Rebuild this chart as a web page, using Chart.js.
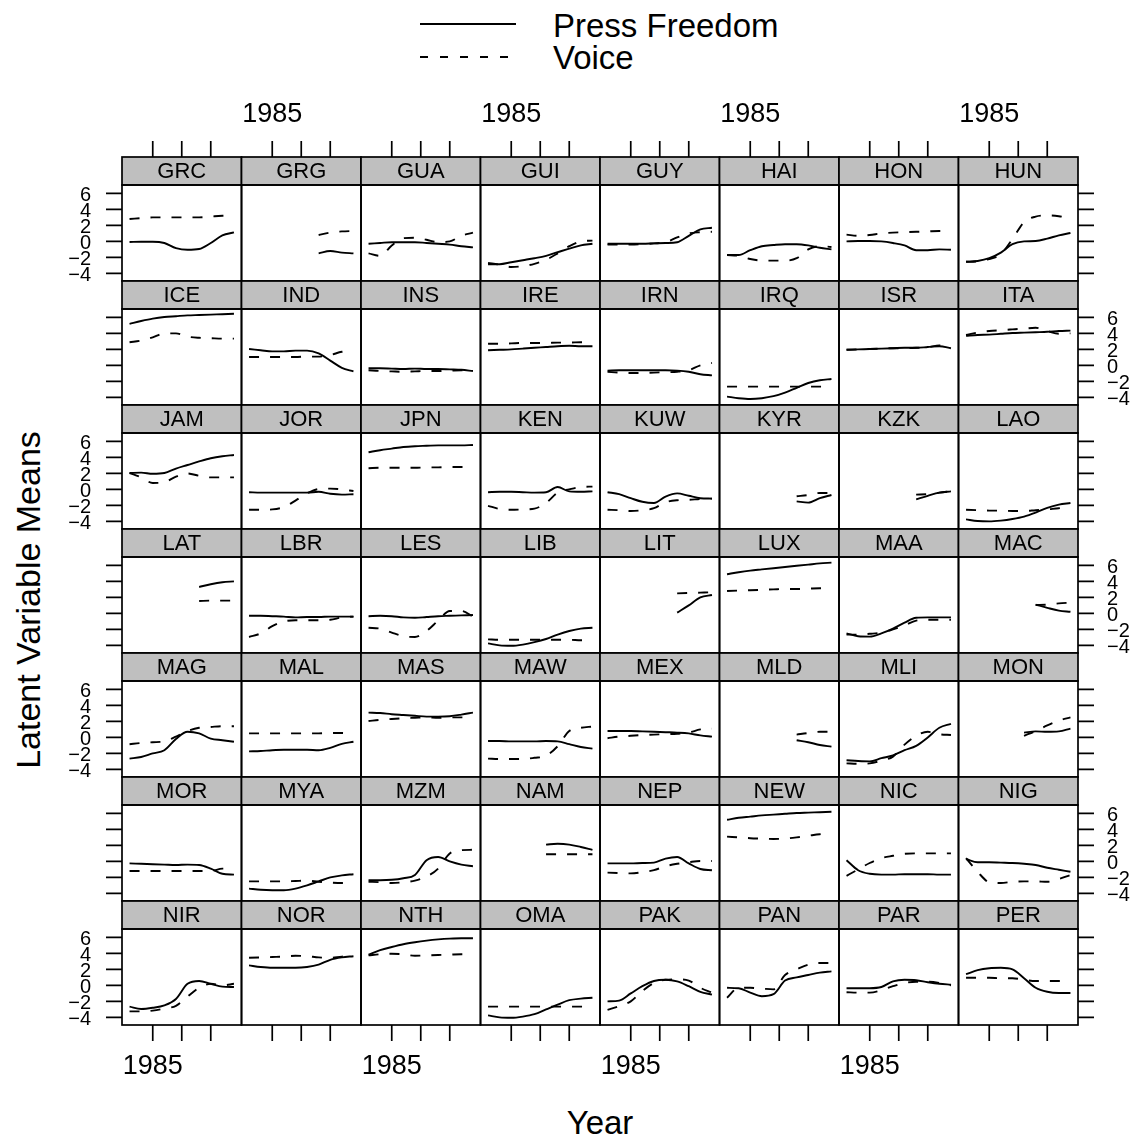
<!DOCTYPE html>
<html>
<head>
<meta charset="utf-8">
<script src="https://cdn.jsdelivr.net/npm/chart.js@4.4.1/dist/chart.umd.min.js"></script>
<style>
body { margin: 0; background: #fff; width: 1142px; height: 1142px; position: relative; overflow: hidden; font-family: "Liberation Sans", Arial, sans-serif; }
canvas { position: absolute; }
.txt { position: absolute; color: #000; font-size: 33px; line-height: 1; white-space: nowrap; }
</style>
</head>
<body>
<canvas id="legendKey" width="110" height="80" style="left:413px;top:0px;width:110px;height:80px"></canvas>
<div class="txt" style="left:553px;top:25px;transform:translateY(-50%)">Press Freedom</div>
<div class="txt" style="left:553px;top:57px;transform:translateY(-50%)">Voice</div>
<div class="txt" style="left:600px;top:1122px;transform:translate(-50%,-50%)">Year</div>
<div class="txt" style="left:28px;top:600px;font-size:34px;transform:translate(-50%,-50%) rotate(-90deg)">Latent Variable Means</div>
<script>
const years = [1981, 1983, 1985, 1987, 1989, 1991, 1993, 1995, 1997, 1999];
const countries = ["GRC","GRG","GUA","GUI","GUY","HAI","HON","HUN",
                   "ICE","IND","INS","IRE","IRN","IRQ","ISR","ITA",
                   "JAM","JOR","JPN","KEN","KUW","KYR","KZK","LAO",
                   "LAT","LBR","LES","LIB","LIT","LUX","MAA","MAC",
                   "MAG","MAL","MAS","MAW","MEX","MLD","MLI","MON",
                   "MOR","MYA","MZM","NAM","NEP","NEW","NIC","NIG",
                   "NIR","NOR","NTH","OMA","PAK","PAN","PAR","PER"];
const xTicks = [1985, 1990, 1995];
const xTickLabels = ["1985", "", ""];
const yTicks = [-4, -2, 0, 2, 4, 6];
const yTickLabels = ["\u22124", "\u22122", "0", "2", "4", "6"];

// row 1
const pressGRC = [-0.08, -0.04, -0.04, -0.2, -0.84, -1.05, -0.95, -0.2, 0.75, 1.13];
const voiceGRC = [2.8, 2.9, 3.0, 3.0, 3.0, 3.0, 3.0, 3.1, 3.2, 3.2];
const pressGRG = [null, null, null, null, null, null, -1.5, -1.2, -1.4, -1.5];
const voiceGRG = [null, null, null, null, null, null, 0.8, 1.1, 1.25, 1.3];
const pressGUA = [-0.3, -0.2, -0.1, -0.1, -0.1, -0.2, -0.3, -0.4, -0.6, -0.75];
const voiceGUA = [-1.5, -1.8, -0.5, 0.4, 0.45, 0.2, -0.1, 0.0, 0.7, 1.1];
const pressGUI = [-2.85, -2.85, -2.6, -2.35, -2.1, -1.8, -1.35, -0.9, -0.5, -0.3];
const voiceGUI = [-2.7, -2.9, -3.2, -3.1, -2.8, -2.3, -1.5, -0.6, 0.0, 0.1];
const pressGUY = [-0.3, -0.3, -0.3, -0.3, -0.25, -0.2, -0.1, 0.7, 1.5, 1.7];
const voiceGUY = [-0.4, -0.4, -0.4, -0.35, -0.25, -0.1, 0.5, 1.0, 1.15, 1.2];
const pressHAI = [-1.7, -1.7, -1.1, -0.6, -0.45, -0.35, -0.35, -0.5, -0.8, -1.0];
const voiceHAI = [-1.7, -1.8, -2.2, -2.4, -2.4, -2.4, -2.1, -1.0, -0.6, -0.7];
const pressHON = [0.0, 0.05, 0.05, 0.0, -0.2, -0.5, -1.1, -1.1, -1.0, -1.05];
const voiceHON = [0.85, 0.7, 0.8, 1.0, 1.1, 1.15, 1.2, 1.25, 1.3, 1.3];
const pressHUN = [-2.55, -2.45, -2.1, -1.4, -0.35, 0.0, 0.05, 0.35, 0.75, 1.05];
const voiceHUN = [-2.55, -2.5, -2.2, -1.6, 0.3, 2.4, 3.1, 3.25, 3.15, 2.9];
// row 2
const pressICE = [5.2, 5.55, 5.85, 6.05, 6.15, 6.25, 6.3, 6.35, 6.4, 6.45];
const voiceICE = [2.9, 3.1, 3.5, 4.0, 4.0, 3.6, 3.45, 3.4, 3.35, 3.35];
const pressIND = [2.05, 1.9, 1.75, 1.75, 1.85, 1.85, 1.5, 0.6, -0.3, -0.75];
const voiceIND = [1.05, 1.05, 1.05, 1.05, 1.05, 1.1, 1.1, 1.3, 1.7, 1.8];
const pressINS = [-0.35, -0.35, -0.4, -0.45, -0.4, -0.45, -0.45, -0.5, -0.55, -0.7];
const voiceINS = [-0.6, -0.7, -0.75, -0.8, -0.75, -0.7, -0.7, -0.65, -0.6, -0.6];
const pressIRE = [1.9, 1.95, 2.0, 2.1, 2.2, 2.3, 2.4, 2.45, 2.4, 2.4];
const voiceIRE = [2.7, 2.7, 2.75, 2.8, 2.8, 2.8, 2.85, 2.85, 2.9, 2.9];
const pressIRN = [-0.65, -0.6, -0.6, -0.6, -0.6, -0.6, -0.65, -0.8, -1.1, -1.25];
const voiceIRN = [-0.8, -0.9, -0.95, -0.95, -0.9, -0.85, -0.8, -0.6, 0.0, 0.3];
const pressIRQ = [-3.9, -4.1, -4.2, -4.1, -3.85, -3.4, -2.8, -2.2, -1.85, -1.7];
const voiceIRQ = [-2.65, -2.65, -2.65, -2.65, -2.65, -2.65, -2.65, -2.65, -2.65, -2.7];
const pressISR = [1.95, 2.0, 2.05, 2.1, 2.15, 2.2, 2.2, 2.3, 2.4, 2.15];
const voiceISR = [1.95, 2.0, 2.05, 2.1, 2.15, 2.15, 2.2, 2.25, 2.5, 2.2];
const pressITA = [3.7, 3.8, 3.85, 3.95, 4.05, 4.1, 4.15, 4.2, 4.3, 4.35];
const voiceITA = [3.8, 4.1, 4.3, 4.4, 4.5, 4.6, 4.7, 4.3, 3.95, 4.0];
// row 3
const pressJAM = [2.05, 2.1, 1.95, 2.05, 2.6, 3.05, 3.5, 3.9, 4.15, 4.3];
const voiceJAM = [2.05, 1.5, 0.8, 0.9, 1.6, 2.0, 1.7, 1.5, 1.5, 1.5];
const pressJOR = [-0.35, -0.4, -0.4, -0.4, -0.4, -0.4, -0.3, -0.55, -0.65, -0.6];
const voiceJOR = [-2.55, -2.55, -2.5, -2.2, -1.4, -0.5, 0.05, 0.1, 0.0, -0.2];
const pressJPN = [4.65, 4.9, 5.1, 5.3, 5.4, 5.45, 5.5, 5.5, 5.5, 5.55];
const voiceJPN = [2.65, 2.7, 2.7, 2.7, 2.7, 2.75, 2.75, 2.8, 2.8, 2.8];
const pressKEN = [-0.35, -0.3, -0.3, -0.35, -0.4, -0.35, 0.3, -0.25, -0.3, -0.25];
const voiceKEN = [-2.05, -2.45, -2.55, -2.5, -2.4, -1.7, -0.4, 0.0, 0.3, 0.35];
const pressKUW = [-0.35, -0.6, -1.1, -1.55, -1.7, -0.9, -0.5, -0.8, -1.1, -1.15];
const voiceKUW = [-2.55, -2.6, -2.7, -2.6, -2.35, -1.6, -1.35, -1.3, -1.2, -1.15];
const pressKYR = [null, null, null, null, null, null, -1.5, -1.65, -1.1, -0.7];
const voiceKYR = [null, null, null, null, null, null, -0.85, -0.7, -0.45, -0.45];
const pressKZK = [null, null, null, null, null, null, -1.25, -0.8, -0.4, -0.25];
const voiceKZK = [null, null, null, null, null, null, -0.65, -0.6, -0.4, -0.25];
const pressLAO = [-3.75, -3.95, -4.0, -3.9, -3.7, -3.4, -2.9, -2.3, -1.9, -1.7];
const voiceLAO = [-2.55, -2.6, -2.65, -2.65, -2.7, -2.7, -2.6, -2.5, -2.35, -2.3];
// row 4
const pressLAT = [null, null, null, null, null, null, 3.3, 3.65, 3.9, 4.0];
const voiceLAT = [null, null, null, null, null, null, 1.55, 1.6, 1.6, 1.6];
const pressLBR = [-0.3, -0.3, -0.35, -0.4, -0.5, -0.45, -0.45, -0.4, -0.4, -0.4];
const voiceLBR = [-2.95, -2.5, -1.6, -1.0, -0.85, -0.85, -0.85, -0.8, -0.5, -0.4];
const pressLES = [-0.35, -0.3, -0.35, -0.5, -0.55, -0.45, -0.35, -0.3, -0.25, -0.2];
const voiceLES = [-1.8, -1.9, -2.4, -2.85, -2.95, -2.2, -0.9, 0.3, 0.3, -0.4];
const pressLIB = [-3.75, -4.0, -4.05, -3.9, -3.6, -3.2, -2.65, -2.2, -1.9, -1.8];
const voiceLIB = [-3.25, -3.3, -3.3, -3.3, -3.3, -3.3, -3.3, -3.3, -3.35, -3.35];
const pressLIT = [null, null, null, null, null, null, 0.1, 1.0, 2.0, 2.3];
const voiceLIT = [null, null, null, null, null, null, 2.5, 2.55, 2.6, 2.65];
const pressLUX = [4.9, 5.15, 5.35, 5.5, 5.65, 5.8, 5.95, 6.1, 6.25, 6.35];
const voiceLUX = [2.8, 2.85, 2.9, 2.95, 3.0, 3.05, 3.05, 3.1, 3.15, 3.15];
const pressMAA = [-2.5, -2.85, -2.9, -2.5, -1.9, -1.15, -0.55, -0.5, -0.5, -0.5];
const voiceMAA = [-2.65, -2.65, -2.55, -2.4, -2.0, -1.5, -0.9, -0.8, -0.8, -0.8];
const pressMAC = [null, null, null, null, null, null, 1.1, 0.7, 0.35, 0.2];
const voiceMAC = [null, null, null, null, null, null, 1.05, 1.1, 1.25, 1.35];
// row 5
const pressMAG = [-2.65, -2.45, -2.0, -1.6, -0.2, 0.7, 0.5, -0.15, -0.35, -0.55];
const voiceMAG = [-0.85, -0.7, -0.6, -0.5, 0.1, 0.8, 1.2, 1.3, 1.4, 1.4];
const pressMAL = [-1.75, -1.7, -1.6, -1.55, -1.55, -1.55, -1.6, -1.3, -0.8, -0.55];
const voiceMAL = [0.5, 0.5, 0.5, 0.5, 0.5, 0.5, 0.5, 0.55, 0.55, 0.55];
const pressMAS = [3.1, 3.05, 2.9, 2.8, 2.7, 2.6, 2.6, 2.65, 2.85, 3.1];
const voiceMAS = [2.05, 2.2, 2.3, 2.4, 2.45, 2.5, 2.45, 2.5, 2.5, 2.4];
const pressMAW = [-0.45, -0.45, -0.5, -0.5, -0.5, -0.45, -0.5, -0.85, -1.2, -1.4];
const voiceMAW = [-2.65, -2.7, -2.7, -2.7, -2.55, -2.3, -1.1, 0.8, 1.2, 1.35];
const pressMEX = [0.8, 0.8, 0.8, 0.75, 0.7, 0.65, 0.6, 0.5, 0.25, 0.1];
const voiceMEX = [-0.1, 0.1, 0.2, 0.3, 0.35, 0.4, 0.45, 0.6, 1.0, 1.1];
const pressMLD = [null, null, null, null, null, null, -0.35, -0.6, -0.95, -1.15];
const voiceMLD = [null, null, null, null, null, null, 0.35, 0.55, 0.7, 0.7];
const pressMLI = [-2.85, -2.95, -3.0, -2.6, -2.25, -1.6, -1.05, 0.0, 1.2, 1.7];
const voiceMLI = [-3.25, -3.3, -3.25, -2.9, -2.4, -0.9, 0.2, 0.7, 0.4, 0.3];
const pressMON = [null, null, null, null, null, 0.6, 0.75, 0.7, 0.75, 1.1];
const voiceMON = [null, null, null, null, null, 0.2, 0.8, 1.5, 2.1, 2.5];
// row 6
const pressMOR = [-0.25, -0.3, -0.35, -0.4, -0.45, -0.4, -0.45, -0.9, -1.55, -1.65];
const voiceMOR = [-1.2, -1.2, -1.2, -1.2, -1.2, -1.2, -1.2, -1.2, -0.9, -0.9];
const pressMYA = [-3.4, -3.55, -3.6, -3.6, -3.4, -3.0, -2.5, -2.0, -1.75, -1.6];
const voiceMYA = [-2.5, -2.5, -2.5, -2.5, -2.45, -2.4, -2.55, -2.65, -2.7, -2.7];
const pressMZM = [-2.35, -2.35, -2.3, -2.1, -1.7, 0.15, 0.55, 0.0, -0.4, -0.6];
const voiceMZM = [-2.55, -2.6, -2.7, -2.6, -2.4, -1.9, -0.9, 1.0, 1.4, 1.45];
const pressNAM = [null, null, null, null, null, 2.1, 2.2, 2.1, 1.8, 1.45];
const voiceNAM = [null, null, null, null, null, 0.9, 0.9, 0.9, 0.9, 0.9];
const pressNEP = [-0.25, -0.25, -0.25, -0.2, -0.15, 0.35, 0.55, -0.25, -0.95, -1.1];
const voiceNEP = [-1.4, -1.45, -1.5, -1.35, -1.1, -0.6, -0.3, -0.1, 0.05, 0.05];
const pressNEW = [5.2, 5.45, 5.6, 5.75, 5.85, 5.95, 6.05, 6.1, 6.15, 6.2];
const voiceNEW = [3.1, 3.0, 2.9, 2.85, 2.8, 2.85, 3.0, 3.2, 3.4, 3.45];
const pressNIC = [0.15, -1.1, -1.55, -1.65, -1.65, -1.6, -1.6, -1.6, -1.65, -1.65];
const voiceNIC = [-1.8, -1.0, -0.2, 0.4, 0.7, 0.95, 1.0, 1.0, 1.0, 1.0];
const pressNIG = [0.3, -0.1, -0.1, -0.15, -0.2, -0.3, -0.45, -0.8, -1.05, -1.3];
const voiceNIG = [0.4, -1.3, -2.6, -2.7, -2.55, -2.5, -2.5, -2.55, -2.2, -1.7];
// row 7
const pressNIR = [-2.65, -2.95, -2.8, -2.5, -1.7, 0.2, 0.55, 0.2, -0.15, -0.2];
const voiceNIR = [-3.25, -3.25, -3.15, -2.9, -2.55, -1.4, -0.3, 0.2, 0.0, 0.2];
const pressNOR = [2.5, 2.3, 2.2, 2.2, 2.2, 2.3, 2.6, 3.2, 3.5, 3.65];
const voiceNOR = [3.45, 3.5, 3.55, 3.6, 3.7, 3.65, 3.5, 3.45, 3.6, 3.65];
const pressNTH = [3.85, 4.4, 4.8, 5.15, 5.4, 5.6, 5.75, 5.85, 5.9, 5.9];
const voiceNTH = [3.75, 3.9, 3.95, 3.9, 3.7, 3.75, 3.8, 3.85, 3.9, 3.9];
const pressOMA = [-3.75, -4.0, -4.05, -3.9, -3.6, -3.0, -2.4, -1.85, -1.65, -1.55];
const voiceOMA = [-2.65, -2.65, -2.65, -2.65, -2.65, -2.65, -2.65, -2.65, -2.65, -2.7];
const pressPAK = [-2.0, -1.9, -1.0, -0.1, 0.55, 0.7, 0.5, -0.1, -0.8, -1.15];
const voicePAK = [-3.05, -2.6, -2.0, -0.7, 0.3, 0.7, 0.75, 0.6, -0.3, -0.9];
const pressPAN = [-0.3, -0.35, -0.9, -1.35, -1.1, 0.6, 1.0, 1.3, 1.6, 1.75];
const voicePAN = [-1.55, -0.3, -0.3, -0.4, -0.5, 1.3, 2.0, 2.6, 2.8, 2.8];
const pressPAR = [-0.35, -0.35, -0.35, -0.2, 0.5, 0.7, 0.65, 0.4, 0.2, 0.1];
const voicePAR = [-0.85, -0.9, -0.9, -0.6, -0.1, 0.3, 0.45, 0.45, 0.3, 0.0];
const pressPER = [1.4, 1.9, 2.15, 2.2, 2.0, 0.9, -0.3, -0.8, -0.95, -0.95];
const voicePER = [0.95, 0.95, 0.95, 0.9, 0.9, 0.7, 0.55, 0.55, 0.55, 0.55];

const pressFreedom = [pressGRC, pressGRG, pressGUA, pressGUI, pressGUY, pressHAI, pressHON, pressHUN,
  pressICE, pressIND, pressINS, pressIRE, pressIRN, pressIRQ, pressISR, pressITA,
  pressJAM, pressJOR, pressJPN, pressKEN, pressKUW, pressKYR, pressKZK, pressLAO,
  pressLAT, pressLBR, pressLES, pressLIB, pressLIT, pressLUX, pressMAA, pressMAC,
  pressMAG, pressMAL, pressMAS, pressMAW, pressMEX, pressMLD, pressMLI, pressMON,
  pressMOR, pressMYA, pressMZM, pressNAM, pressNEP, pressNEW, pressNIC, pressNIG,
  pressNIR, pressNOR, pressNTH, pressOMA, pressPAK, pressPAN, pressPAR, pressPER];
const voice = [voiceGRC, voiceGRG, voiceGUA, voiceGUI, voiceGUY, voiceHAI, voiceHON, voiceHUN,
  voiceICE, voiceIND, voiceINS, voiceIRE, voiceIRN, voiceIRQ, voiceISR, voiceITA,
  voiceJAM, voiceJOR, voiceJPN, voiceKEN, voiceKUW, voiceKYR, voiceKZK, voiceLAO,
  voiceLAT, voiceLBR, voiceLES, voiceLIB, voiceLIT, voiceLUX, voiceMAA, voiceMAC,
  voiceMAG, voiceMAL, voiceMAS, voiceMAW, voiceMEX, voiceMLD, voiceMLI, voiceMON,
  voiceMOR, voiceMYA, voiceMZM, voiceNAM, voiceNEP, voiceNEW, voiceNIC, voiceNIG,
  voiceNIR, voiceNOR, voiceNTH, voiceOMA, voicePAK, voicePAN, voicePAR, voicePER];

const NCOL = 8, NROW = 7;
const STRIP = 28;
const FONT = '"Liberation Sans", Arial, sans-serif';

// strip, box and outer axes for each panel
const panelPlugin = {
  id: 'panel',
  afterDraw(chart, args, opts) {
    const ctx = chart.ctx;
    const a = chart.chartArea;
    const sx = chart.scales.x, sy = chart.scales.y;
    ctx.save();
    ctx.fillStyle = '#bfbfbf';
    ctx.fillRect(a.left, a.top - STRIP, a.right - a.left, STRIP);
    ctx.strokeStyle = '#000';
    ctx.lineWidth = 1.7;
    ctx.strokeRect(a.left, a.top - STRIP, a.right - a.left, STRIP);
    ctx.strokeRect(a.left, a.top, a.right - a.left, a.bottom - a.top);
    ctx.fillStyle = '#000';
    ctx.font = '22px ' + FONT;
    ctx.textAlign = 'center';
    ctx.textBaseline = 'middle';
    ctx.fillText(opts.name, (a.left + a.right) / 2, a.top - STRIP / 2 + 1);

    ctx.beginPath();
    if (opts.row === 0) {
      xTicks.forEach(t => {
        const x = sx.getPixelForValue(t);
        ctx.moveTo(x, a.top - STRIP);
        ctx.lineTo(x, a.top - STRIP - 16);
      });
    }
    if (opts.row === NROW - 1) {
      xTicks.forEach(t => {
        const x = sx.getPixelForValue(t);
        ctx.moveTo(x, a.bottom);
        ctx.lineTo(x, a.bottom + 16);
      });
    }
    if (opts.col === 0) {
      yTicks.forEach(t => {
        const y = sy.getPixelForValue(t);
        ctx.moveTo(a.left, y);
        ctx.lineTo(a.left - 16, y);
      });
    }
    if (opts.col === NCOL - 1) {
      yTicks.forEach(t => {
        const y = sy.getPixelForValue(t);
        ctx.moveTo(a.right, y);
        ctx.lineTo(a.right + 16, y);
      });
    }
    ctx.stroke();

    ctx.font = '27px ' + FONT;
    if (opts.row === 0 && opts.col % 2 === 1) {
      xTicks.forEach((t, i) => ctx.fillText(xTickLabels[i], sx.getPixelForValue(t), a.top - STRIP - 42));
    }
    if (opts.row === NROW - 1 && opts.col % 2 === 0) {
      xTicks.forEach((t, i) => ctx.fillText(xTickLabels[i], sx.getPixelForValue(t), a.bottom + 42));
    }
    ctx.font = '20px ' + FONT;
    if (opts.col === 0 && opts.row % 2 === 0) {
      ctx.textAlign = 'right';
      yTicks.forEach((t, i) => ctx.fillText(yTickLabels[i], a.left - 31, sy.getPixelForValue(t) + 2));
    }
    if (opts.col === NCOL - 1 && opts.row % 2 === 1) {
      ctx.textAlign = 'left';
      yTicks.forEach((t, i) => ctx.fillText(yTickLabels[i], a.right + 29, sy.getPixelForValue(t) + 2));
    }
    ctx.restore();
  }
};

const M = 100;
const PW = 119.5, PH = 96;
countries.forEach((name, k) => {
  const row = Math.floor(k / NCOL), col = k % NCOL;
  const px = 122 + col * PW, py = 185 + row * 124;
  const left = Math.floor(px) - M, top = py - M;
  const W = 120 + 2 * M, H = PH + 2 * M;
  const cv = document.createElement('canvas');
  cv.width = W; cv.height = H;
  cv.style.left = left + 'px'; cv.style.top = top + 'px';
  cv.style.width = W + 'px'; cv.style.height = H + 'px';
  document.body.appendChild(cv);
  const pl = px - left;
  new Chart(cv, {
    type: 'line',
    data: {
      datasets: [{
        label: 'Press Freedom',
        data: years.map((yr, i) => ({ x: yr, y: pressFreedom[k][i] })),
        borderColor: '#000',
        borderWidth: 1.9,
        pointRadius: 0,
        cubicInterpolationMode: 'monotone'
      }, {
        label: 'Voice',
        data: years.map((yr, i) => ({ x: yr, y: voice[k][i] })),
        borderColor: '#000',
        borderWidth: 1.9,
        borderDash: [10, 11],
        pointRadius: 0,
        cubicInterpolationMode: 'monotone'
      }]
    },
    options: {
      responsive: false,
      animation: false,
      devicePixelRatio: 1,
      events: [],
      layout: { padding: { left: pl, top: M, right: W - pl - PW, bottom: M } },
      scales: {
        x: { type: 'linear', min: 1979.7, max: 2000.3, display: false },
        y: { type: 'linear', min: -4.95, max: 7.05, display: false }
      },
      plugins: {
        legend: { display: false },
        tooltip: { enabled: false },
        panel: { name: name, row: row, col: col }
      }
    },
    plugins: [panelPlugin]
  });
});

// legend key lines
const lk = document.getElementById('legendKey').getContext('2d');
lk.strokeStyle = '#000';
lk.lineWidth = 1.9;
lk.beginPath(); lk.moveTo(7, 24); lk.lineTo(103, 24); lk.stroke();
lk.setLineDash([8, 12]);
lk.beginPath(); lk.moveTo(7, 57); lk.lineTo(103, 57); lk.stroke();
</script>
</body>
</html>
